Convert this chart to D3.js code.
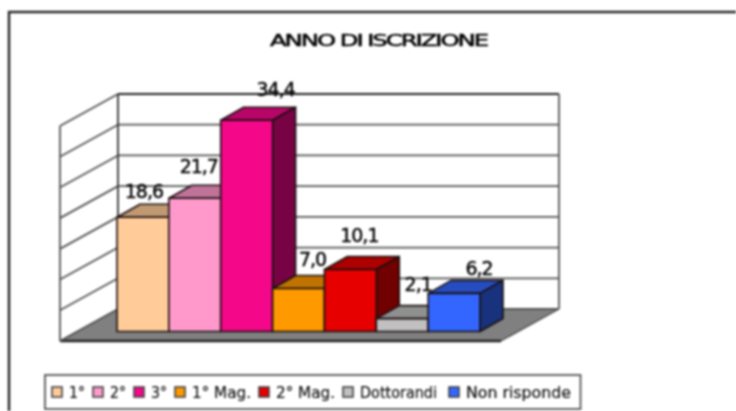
<!DOCTYPE html>
<html>
<head>
<meta charset="utf-8">
<script src="https://cdn.jsdelivr.net/npm/d3@7"></script>
<style>
  html, body { margin: 0; padding: 0; background: #fff; overflow: hidden; }
  svg { display: block; filter: blur(0.8px); font-family: "DejaVu Sans", sans-serif; }
</style>
</head>
<body>
<svg id="chart"></svg>
<script>
const categories = ['1°', '2°', '3°', '1° Mag.', '2° Mag.', 'Dottorandi', 'Non risponde'];
const values = [18.6, 21.7, 34.4, 7.0, 10.1, 2.1, 6.2];
const colors = ['#FFCC99', '#FF99CC', '#F5078A', '#FF9900', '#E60000', '#C0C0C0', '#3366FF'];
const gridTicks = [0, 5, 10, 15, 20, 25, 30, 35];
const title = 'ANNO DI ISCRIZIONE';

// where the labels sit relative to the bar's front top centre (they wander in the original)
const labelNudgeX = [1, 4, 29, 14, 9, 16, 25];
const labelNudgeY = [26, 32, 31, 29, 34, 34, 25];

// legend entries are not evenly spaced in the original
const legendSwatchX = [52, 93, 134, 175, 259, 343, 449];
const legendTextW = [16, 16, 16, 59, 59, 77, 105];

const width = 736, height = 411;
const wall = { left: 118, right: 559, top: 94, bottom: 309 };
const depth = { x: -58, y: 32 };       // back wall -> front edge of floor
const barDepth = { x: 23, y: -13 };    // bar front -> bar back
const barBase = 331.5;

const svg = d3.select('#chart').attr('width', width).attr('height', height);

const yScale = d3.scaleLinear().domain([0, 35]).range([wall.bottom, wall.top]);
const xScale = d3.scaleBand().domain(categories).range([117, 480]).paddingInner(0);
const barHeight = v => yScale(0) - yScale(v);

const poly = pts => pts.map(p => p.join(',')).join(' ');

// outer frame, runs off the right and bottom of the picture
svg.append('rect')
    .attr('x', 9).attr('y', 12)
    .attr('width', 800).attr('height', 500)
    .attr('fill', '#fff').attr('stroke', '#222').attr('stroke-width', 2.4);

svg.append('text')
    .attr('x', 270).attr('y', 45.5)
    .attr('font-size', 16.5)
    .attr('letter-spacing', -1.4)
    .attr('textLength', 217)
    .attr('lengthAdjust', 'spacingAndGlyphs')
    .attr('stroke', '#000')
    .attr('stroke-width', 0.5)
    .attr('fill', '#000')
    .text(title);

// floor
svg.append('polygon')
    .attr('points', poly([
        [wall.left, wall.bottom], [wall.right, wall.bottom],
        [wall.right + depth.x, wall.bottom + depth.y], [wall.left + depth.x, wall.bottom + depth.y]
    ]))
    .attr('fill', '#808080').attr('stroke', '#444').attr('stroke-width', 1.2);
svg.append('line')
    .attr('x1', wall.left + depth.x).attr('x2', wall.right + depth.x)
    .attr('y1', wall.bottom + depth.y).attr('y2', wall.bottom + depth.y)
    .attr('stroke', '#222').attr('stroke-width', 2.4);

// gridlines on both walls
const grid = svg.append('g').attr('stroke', '#555').attr('stroke-width', 1.8).attr('fill', 'none');
grid.selectAll('.back')
    .data(gridTicks)
    .enter()
    .append('line')
        .attr('class', 'back')
        .attr('x1', wall.left).attr('x2', wall.right)
        .attr('y1', d => yScale(d)).attr('y2', d => yScale(d))
        .attr('stroke', d => d === 35 ? '#222' : '#555');
grid.selectAll('.side')
    .data(gridTicks)
    .enter()
    .append('line')
        .attr('class', 'side')
        .attr('x1', wall.left + depth.x).attr('x2', wall.left)
        .attr('y1', d => yScale(d) + depth.y).attr('y2', d => yScale(d));
grid.append('line')
    .attr('x1', wall.left).attr('x2', wall.left)
    .attr('y1', wall.top).attr('y2', wall.bottom)
    .attr('stroke', '#333');
grid.append('line')
    .attr('x1', wall.right).attr('x2', wall.right)
    .attr('y1', wall.top).attr('y2', wall.bottom);
grid.append('line')
    .attr('x1', wall.left + depth.x).attr('x2', wall.left + depth.x)
    .attr('y1', wall.top + depth.y).attr('y2', wall.bottom + depth.y);

// bars, left to right so each one covers the side of the previous
const bars = svg.selectAll('.bar')
    .data(categories)
    .enter()
    .append('g')
        .attr('class', 'bar')
        .attr('stroke', '#1a1010')
        .attr('stroke-width', 1.6)
        .attr('stroke-linejoin', 'round');

bars.each(function(d, i) {
    const g = d3.select(this);
    const x0 = xScale(d), x1 = x0 + xScale.bandwidth();
    const top = barBase - barHeight(values[i]);
    const base = d3.rgb(colors[i]);
    g.append('polygon')
        .attr('points', poly([[x0, top], [x0 + barDepth.x, top + barDepth.y], [x1 + barDepth.x, top + barDepth.y], [x1, top]]))
        .attr('fill', base.darker(0.8));
    g.append('polygon')
        .attr('points', poly([[x1, top], [x1 + barDepth.x, top + barDepth.y], [x1 + barDepth.x, barBase + barDepth.y], [x1, barBase]]))
        .attr('fill', base.darker(2));
    g.append('rect')
        .attr('x', x0).attr('y', top)
        .attr('width', xScale.bandwidth()).attr('height', barHeight(values[i]))
        .attr('fill', colors[i]);
});

// value labels
svg.selectAll('.value')
    .data(values)
    .enter()
    .append('text')
        .attr('class', 'value')
        .attr('x', (d, i) => xScale(categories[i]) + xScale.bandwidth() / 2 + labelNudgeX[i])
        .attr('y', (d, i) => barBase - barHeight(d) - labelNudgeY[i] + 6.5)
        .attr('text-anchor', 'middle')
        .attr('font-size', 19)
        .attr('letter-spacing', -1)
        .attr('stroke', '#000')
        .attr('stroke-width', 0.4)
        .attr('fill', '#000')
        .text(d => d.toFixed(1).replace('.', ','));

// legend
svg.append('rect')
    .attr('x', 45).attr('y', 375)
    .attr('width', 535.5).attr('height', 34)
    .attr('fill', '#fff').attr('stroke', '#555').attr('stroke-width', 1.8);

categories.forEach((c, i) => {
    svg.append('rect')
        .attr('x', legendSwatchX[i]).attr('y', 387)
        .attr('width', 10).attr('height', 10)
        .attr('fill', colors[i]).attr('stroke', '#444').attr('stroke-width', 1.6);
    svg.append('text')
        .attr('x', legendSwatchX[i] + 17).attr('y', 398)
        .attr('font-size', 15)
        .attr('textLength', legendTextW[i])
        .attr('lengthAdjust', 'spacingAndGlyphs')
        .attr('stroke', '#111')
        .attr('stroke-width', 0.2)
        .attr('fill', '#111')
        .text(c);
});
</script>
</body>
</html>
